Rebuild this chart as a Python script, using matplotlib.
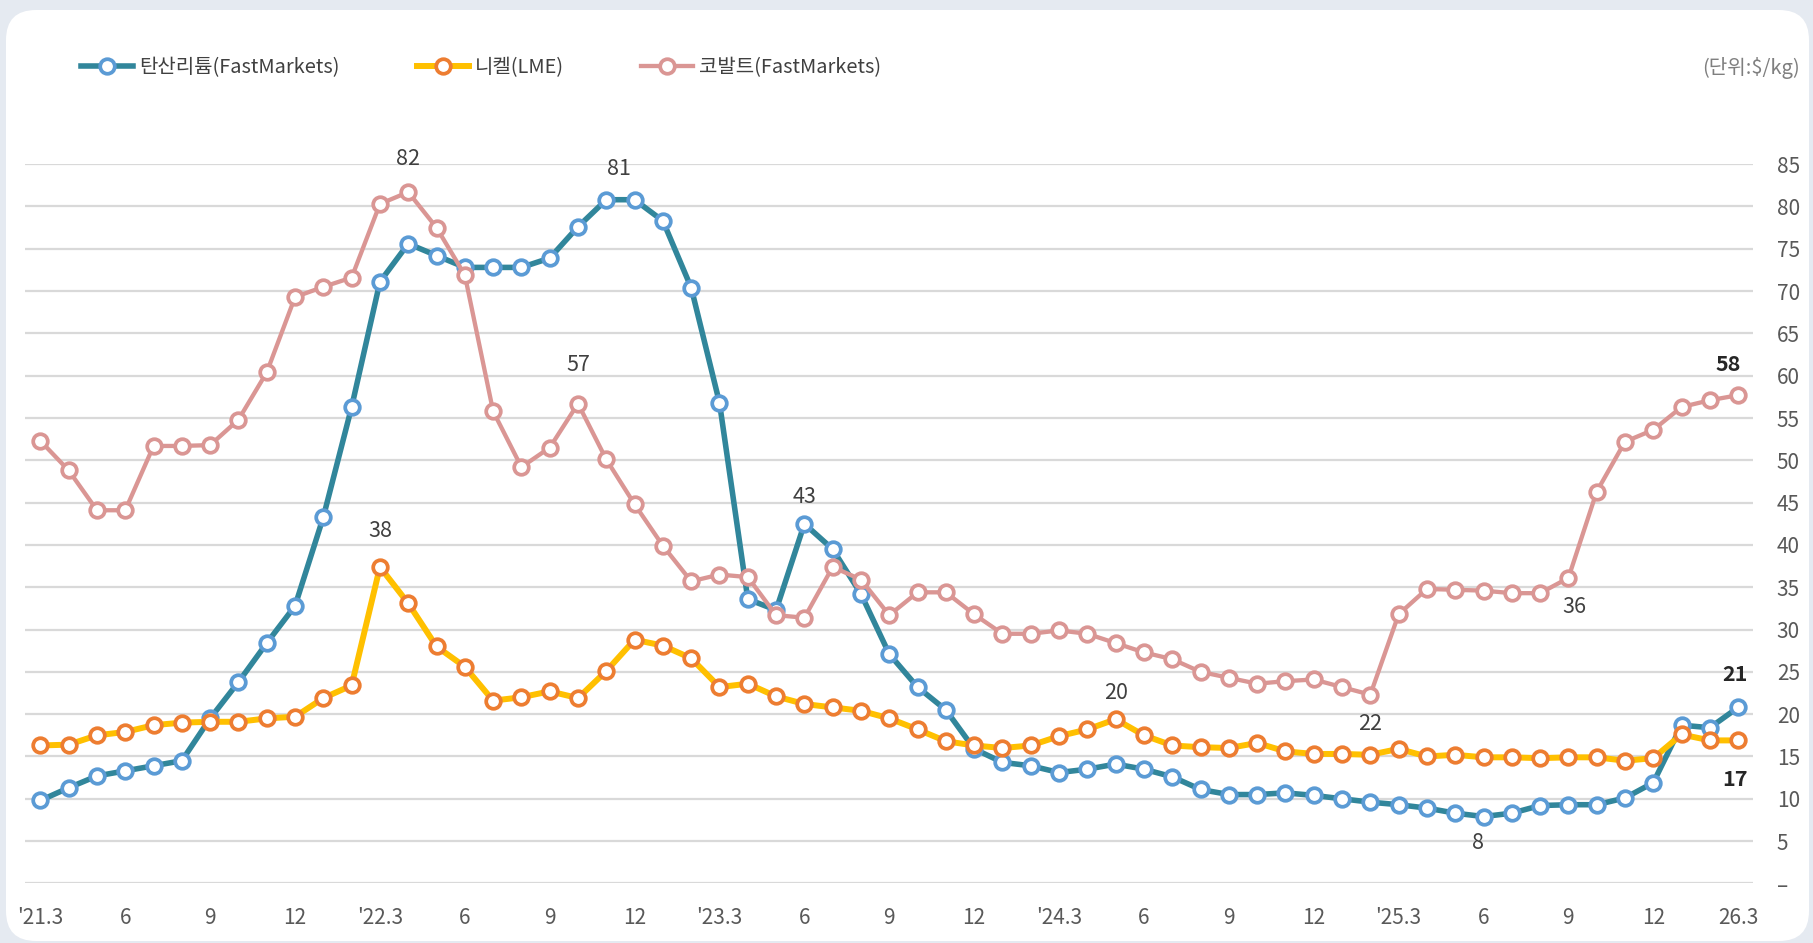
import numpy as np
import matplotlib.pyplot as plt
from matplotlib.patches import FancyBboxPatch
from matplotlib.transforms import IdentityTransform

plt.rcParams['font.family'] = ['Noto Sans CJK KR', 'DejaVu Sans']

# monthly series, '21.3 ~ '26.3 ($/kg)
tick_labels = ["'21.3", '6', '9', '12', "'22.3", '6', '9', '12', "'23.3", '6', '9', '12',
               "'24.3", '6', '9', '12', "'25.3", '6', '9', '12', '26.3']

lithium = [9.8, 11.3, 12.7, 13.3, 13.9, 14.5, 19.5, 23.8, 28.4, 32.8,
           43.3, 56.3, 71.1, 75.6, 74.2, 72.8, 72.8, 72.8, 73.9, 77.6,
           80.8, 80.8, 78.3, 70.4, 56.8, 33.6, 32.3, 42.5, 39.5, 34.2,
           27.1, 23.2, 20.5, 15.9, 14.3, 13.9, 13.1, 13.5, 14.1, 13.5,
           12.6, 11.1, 10.5, 10.5, 10.7, 10.4, 10.0, 9.6, 9.3, 8.9,
           8.3, 7.9, 8.3, 9.2, 9.3, 9.3, 10.1, 11.9, 18.7, 18.4, 20.8]

nickel = [16.3, 16.4, 17.5, 17.9, 18.7, 19.0, 19.1, 19.1, 19.5, 19.7,
          21.9, 23.4, 37.4, 33.1, 28.0, 25.6, 21.6, 22.0, 22.7, 21.9,
          25.1, 28.8, 28.1, 26.6, 23.2, 23.6, 22.1, 21.2, 20.8, 20.4,
          19.5, 18.2, 16.8, 16.3, 16.0, 16.3, 17.4, 18.2, 19.4, 17.5,
          16.3, 16.1, 16.0, 16.6, 15.6, 15.3, 15.3, 15.2, 15.9, 15.0,
          15.2, 14.9, 14.9, 14.8, 14.9, 14.9, 14.5, 14.8, 17.6, 16.9, 16.9]

cobalt = [52.3, 48.8, 44.1, 44.1, 51.7, 51.7, 51.8, 54.8, 60.4, 69.3,
          70.5, 71.6, 80.3, 81.7, 77.5, 71.9, 55.8, 49.2, 51.5, 56.7,
          50.1, 44.8, 39.9, 35.7, 36.5, 36.2, 31.7, 31.4, 37.4, 35.9,
          31.7, 34.4, 34.4, 31.8, 29.5, 29.5, 29.9, 29.5, 28.4, 27.3,
          26.5, 25.0, 24.3, 23.6, 23.9, 24.1, 23.2, 22.3, 31.8, 34.8,
          34.7, 34.6, 34.3, 34.3, 36.1, 46.3, 52.2, 53.6, 56.3, 57.1, 57.7]

names = ['탄산리튬(FastMarkets)', '니켈(LME)', '코발트(FastMarkets)']

# (series, index, text)
point_labels = [
    ('cobalt', 13, '82'), ('lithium', 20, '81'), ('cobalt', 19, '57'),
    ('nickel', 12, '38'), ('lithium', 27, '43'), ('nickel', 38, '20'),
    ('cobalt', 47, '22'), ('lithium', 51, '8'), ('cobalt', 54, '36'),
    ('cobalt', 60, '58'), ('lithium', 60, '21'), ('nickel', 60, '17'),
]
# offsets in points, bold flag
label_style = [(0, 24, False), (9, 22, False), (0, 28, False), (0, 26, False),
               (0, 19, False), (0, 19, False), (0, -21, False), (-4, -19, False),
               (4, -21, False), (-7, 22, True), (-2, 24, True), (-2, -28, True)]

series = {'lithium': lithium, 'nickel': nickel, 'cobalt': cobalt}
styles = {
    'lithium': dict(color='#31869b', lw=4.0, mec='#5b9bd5'),
    'nickel': dict(color='#ffc000', lw=4.3, mec='#ed7d31'),
    'cobalt': dict(color='#da9694', lw=3.1, mec='#da9694'),
}

fig = plt.figure(figsize=(18.13, 9.43), dpi=100)
fig.patch.set_facecolor('#e5eaf1')
panel = FancyBboxPatch((6, 2), 1803, 931, boxstyle='round,pad=0,rounding_size=30',
                       transform=IdentityTransform(), facecolor='white', edgecolor='none',
                       zorder=-5)
fig.patches.append(panel)

ax = fig.add_axes([0.014, 0.0632, 0.953, 0.7627])
ax.set_facecolor('none')

x = np.arange(len(lithium))
handles = []
for key, name in zip(['lithium', 'nickel', 'cobalt'], names):
    st = styles[key]
    h, = ax.plot(x, series[key], color=st['color'], lw=st['lw'], marker='o', ms=10.5,
                 mfc='white', mec=st['mec'], mew=2.7, clip_on=False, label=name, zorder=3)
    handles.append(h)

for (key, idx, txt), (dx, dy, bold) in zip(point_labels, label_style):
    ax.annotate(txt, (idx, series[key][idx]), xytext=(dx, dy), textcoords='offset points',
                ha='center', va='center', fontsize=15.5,
                color='#262626' if bold else '#404040',
                fontweight='bold' if bold else 'normal', zorder=5)

ax.set_xlim(-0.53, 60.53)
ax.set_ylim(0, 85)
ax.set_xticks(x[::3])
ax.set_xticklabels(tick_labels)
yt = np.arange(0, 90, 5)
ax.set_yticks(yt)
ax.set_yticklabels(['–'] + [str(v) for v in yt[1:]])
ax.yaxis.tick_right()
ax.tick_params(axis='both', length=0, labelsize=15, labelcolor='#595959')
ax.tick_params(axis='x', pad=17)
ax.tick_params(axis='y', pad=17)
for lab in ax.get_yticklabels():
    lab.set_horizontalalignment('left')
ax.grid(axis='y', color='#d9d9d9', lw=1.6)
ax.set_axisbelow(True)
for s in ax.spines.values():
    s.set_visible(False)

ax.legend(handles=handles, loc='center left', bbox_to_anchor=(0.0447, 0.928),
          bbox_transform=fig.transFigure, ncol=3, frameon=False, fontsize=14.4,
          handlelength=2.6, handletextpad=0.3, columnspacing=3.85,
          borderpad=0, borderaxespad=0, labelcolor='#404040')

fig.text(0.993, 0.928, '(단위:$/kg)', ha='right', va='center', fontsize=14.5, color='#7f7f7f')

fig.savefig('out.png', dpi=100, facecolor=fig.get_facecolor())
